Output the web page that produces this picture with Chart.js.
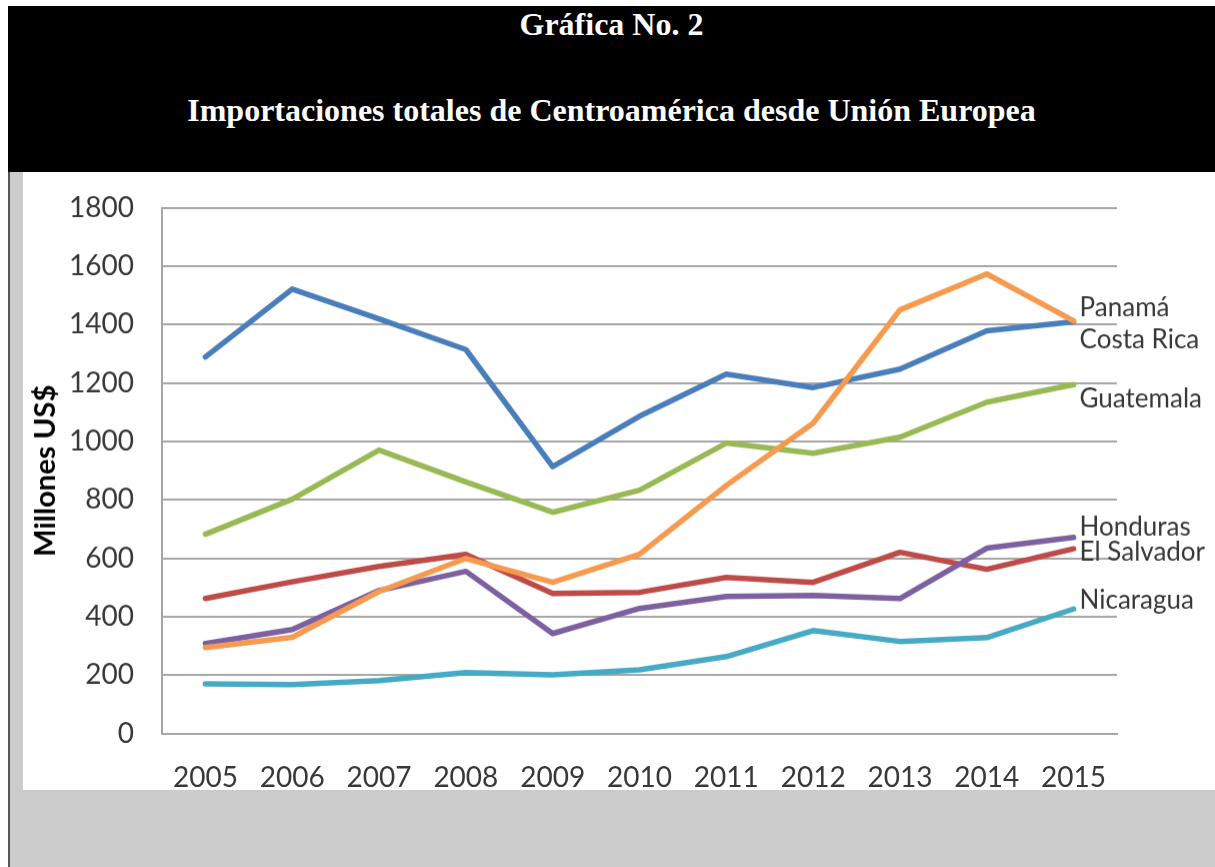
<!DOCTYPE html>
<html lang="es">
<head>
<meta charset="utf-8">
<title>Importaciones totales de Centroamérica desde Unión Europea</title>
<script src="https://cdn.jsdelivr.net/npm/chart.js@4/dist/chart.umd.min.js"></script>
<style>
    html, body { margin: 0; padding: 0; background: #fff; }
    body { width: 1215px; height: 867px; position: relative; overflow: hidden; }
    #header {
        position: absolute; left: 8px; top: 6px; width: 1207px; height: 166px;
        background: #000; color: #fff; text-align: center;
        font-family: "Liberation Serif", "Times New Roman", serif; font-weight: bold;
    }
    #header .l1 { position: absolute; left: 0; right: 0; top: -2px; font-size: 32px; line-height: 40px; }
    #header .l2 { position: absolute; left: 0; right: 0; top: 84px; font-size: 32px; line-height: 40px; }
    #frame {
        position: absolute; left: 8px; top: 172px; width: 1207px; height: 695px;
        background: #cbcbcb; border-left: 2px solid #555; box-sizing: border-box;
    }
    #whiteBox { position: absolute; left: 23px; top: 172px; width: 1192px; height: 618px; background: #fff; }
    #chartBox { position: absolute; left: 23px; top: 172px; width: 1192px; height: 618px; }
</style>
</head>
<body>
<div id="header">
    <div class="l1">Gráfica No. 2</div>
    <div class="l2">Importaciones totales de Centroamérica desde Unión Europea</div>
</div>
<div id="frame"></div>
<div id="whiteBox"></div>
<div id="chartBox"><canvas id="myChart"></canvas></div>

<script>
// years on the x axis
const years = ['2005', '2006', '2007', '2008', '2009', '2010', '2011', '2012', '2013', '2014', '2015'];

// millones US$
const panama     = [295, 330, 487, 600, 518, 614, 850, 1063, 1451, 1574, 1413];
const costaRica  = [1290, 1522, 1420, 1315, 914, 1087, 1231, 1185, 1248, 1379, 1410];
const guatemala  = [683, 803, 971, 862, 758, 834, 995, 960, 1015, 1135, 1195];
const honduras   = [309, 357, 490, 556, 343, 429, 470, 473, 463, 635, 672];
const elSalvador = [463, 520, 573, 614, 480, 484, 535, 518, 621, 563, 633];
const nicaragua  = [171, 168, 182, 209, 202, 219, 264, 353, 316, 329, 427];

const seriesNames = ['Panamá', 'Costa Rica', 'Guatemala', 'Honduras', 'El Salvador', 'Nicaragua'];
const seriesData = [panama, costaRica, guatemala, honduras, elSalvador, nicaragua];
const seriesColors = ['#f59a4e', '#4a7ebb', '#98b954', '#7d60a0', '#be4b48', '#46aac5'];

// nudges for the end labels so they don't overlap (px)
const labelNudge = [-13, 18, 14, -10, 3, -9];

document.addEventListener('DOMContentLoaded', () => {
    if (typeof Chart === 'undefined') {
        console.error('Chart.js is not loaded');
        return;
    }

    const tickColor = '#383838';
    const gridColor = '#a6a6a6';
    // page y of the 1800 line and of the 0 line
    const topLineY = 208;
    const zeroLineY = 733;

    // writes the country name at the end of each line
    const endLabels = {
        id: 'endLabels',
        afterDatasetsDraw(chart) {
            const ctx = chart.ctx;
            ctx.save();
            ctx.font = '26px Lato';
            ctx.fillStyle = tickColor;
            ctx.textAlign = 'left';
            ctx.textBaseline = 'middle';
            chart.data.datasets.forEach((ds, i) => {
                const meta = chart.getDatasetMeta(i);
                const last = meta.data[meta.data.length - 1];
                ctx.fillText(ds.label, last.x + 6, last.y + labelNudge[i]);
            });
            ctx.restore();
        }
    };

    const ctx = document.getElementById('myChart').getContext('2d');
    const chart = new Chart(ctx, {
        type: 'line',
        data: {
            labels: years,
            datasets: seriesNames.map((name, i) => ({
                label: name,
                data: seriesData[i],
                borderColor: seriesColors[i],
                backgroundColor: seriesColors[i],
                borderWidth: 5.5,
                pointRadius: 0,
                tension: 0,
                borderJoinStyle: 'round',
                borderCapStyle: 'round'
            }))
        },
        options: {
            responsive: true,
            maintainAspectRatio: false,
            animation: false,
            layout: { padding: { left: 0, top: 36, right: 98, bottom: 0 } },
            plugins: {
                legend: { display: false },
                tooltip: { enabled: false }
            },
            scales: {
                x: {
                    offset: true,
                    grid: { display: false, drawTicks: false },
                    border: { display: true, color: gridColor, width: 2 },
                    ticks: { color: tickColor, font: { family: 'Lato', size: 28 }, padding: 27, maxRotation: 0 },
                    afterFit: (scale) => { scale.height = 57; }
                },
                y: {
                    min: 0,
                    max: 1800,
                    grid: { color: gridColor, lineWidth: 2, drawTicks: false },
                    border: { display: true, color: gridColor, width: 2 },
                    ticks: {
                        stepSize: 200,
                        color: tickColor,
                        font: { family: 'Lato', size: 28 },
                        padding: 28,
                        callback: (v) => String(v)
                    },
                    title: {
                        display: true,
                        text: 'Millones US$',
                        color: '#000',
                        font: { family: 'Lato', size: 29, weight: 'bold' },
                        padding: { top: 5, bottom: 4 }
                    },
                    afterFit: (scale) => { scale.width = 139; }
                }
            }
        },
        plugins: [endLabels]
    });

    // line the plot up with the page: move / stretch the canvas box so
    // the 1800 and 0 grid lines land where they should
    const box = document.getElementById('chartBox');
    const canvasH = chart.height;
    const a = chart.scales.y.getPixelForValue(1800);
    const b = canvasH - chart.scales.y.getPixelForValue(0);
    box.style.top = (topLineY - a) + 'px';
    box.style.height = (zeroLineY + b - (topLineY - a)) + 'px';
    chart.resize();
});
</script>
</body>
</html>
